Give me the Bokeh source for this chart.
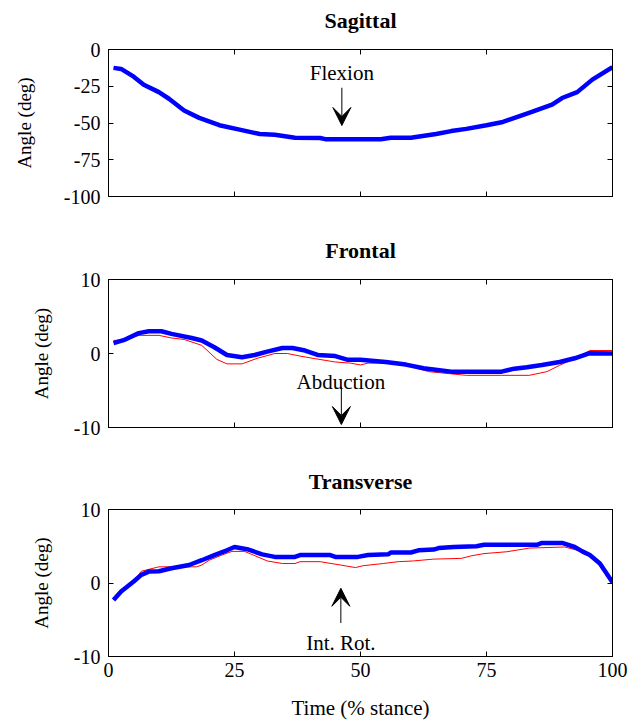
from bokeh.plotting import figure
from bokeh.layouts import column
from bokeh.models import Range1d, LinearAxis, FixedTicker, Arrow, VeeHead, Label
from bokeh.embed import file_html
from bokeh.resources import INLINE

# ---------------- data ----------------
x_ticks = [0, 25, 50, 75, 100]
sag_ticks = [-100, -75, -50, -25, 0]
fr_ticks = [-10, 0, 10]
tr_ticks = [-10, 0, 10]
titles = ["Sagittal", "Frontal", "Transverse"]

sag_t = [1, 2.5, 5, 7, 10, 12, 15, 18, 22, 26, 30, 33, 37, 42, 43, 48, 54, 56, 60, 65, 68, 71, 75, 78, 81, 84, 88, 90, 93, 96, 100]
sag_blue = [-12.5, -13.2, -18.5, -24, -29, -33.5, -41.5, -46.5, -51.5, -54.5, -57.5, -58, -60, -60.2, -61, -61, -61, -60, -60, -57.5, -55.5, -54, -51.5, -49.5, -46, -42.5, -37.5, -33, -29, -20.5, -12]
sag_red = [-12.5, -13.2, -18.5, -24, -29, -33.5, -41.5, -46.5, -51.5, -54.5, -57.5, -58, -60, -60.2, -60.6, -60.6, -60.6, -60, -60, -57.5, -55.5, -54, -51.5, -49.5, -46, -42.5, -37.5, -33, -29, -20.5, -11.8]

fr_t_blue = [1, 3, 6, 8, 10.5, 12.5, 16.5, 18.5, 21, 23.5, 26.5, 29, 31.5, 34.5, 36.5, 39, 41.5, 45, 47.5, 50, 55, 59, 62.5, 64.5, 68, 71, 78, 80.5, 83, 86, 89.5, 92.5, 95.5, 100]
fr_blue = [1.4, 1.8, 2.75, 3.0, 3.0, 2.65, 2.1, 1.75, 0.85, -0.2, -0.5, -0.2, 0.25, 0.75, 0.75, 0.4, -0.2, -0.35, -0.85, -0.85, -1.15, -1.5, -2.0, -2.15, -2.45, -2.45, -2.45, -2.05, -1.85, -1.55, -1.15, -0.65, 0.05, 0.0]
fr_t_red = [1, 3, 6, 10, 12.5, 15, 18.5, 21.5, 23.5, 26.5, 29.5, 33, 35.5, 38, 41, 45, 48, 50, 51.5, 56.5, 60.5, 63.5, 68, 71, 78, 83.5, 87, 89.5, 93, 95.5, 100]
fr_red = [1.75, 1.9, 2.45, 2.45, 2.1, 1.9, 1.1, -0.8, -1.4, -1.4, -0.65, 0.0, 0.0, -0.35, -0.7, -1.15, -1.3, -1.55, -1.3, -1.3, -1.85, -2.45, -2.75, -2.95, -2.95, -2.95, -2.45, -1.6, -0.5, 0.4, 0.4]

tr_t_blue = [1, 2.5, 5, 6.5, 8, 10, 12.5, 16, 18.5, 21, 23.5, 25, 27.5, 30.5, 33, 37, 38, 44, 45, 49.5, 51.5, 55.5, 56, 60, 61.5, 64.5, 65.5, 68.5, 73, 74.5, 85, 86, 90, 92.5, 94, 95.5, 97.5, 100]
tr_blue = [-2.3, -1.15, 0.2, 1.1, 1.55, 1.6, 2.0, 2.45, 3.1, 3.8, 4.45, 4.9, 4.6, 3.9, 3.55, 3.55, 3.8, 3.8, 3.55, 3.55, 3.8, 3.9, 4.15, 4.15, 4.45, 4.55, 4.75, 4.9, 5.0, 5.2, 5.2, 5.45, 5.45, 4.9, 4.3, 3.8, 2.65, 0.1]
tr_t_red = [1, 2.5, 5, 6.5, 10, 14, 17.5, 18.5, 20, 22.5, 24.5, 27, 31.5, 34.5, 37, 38, 42, 46, 49, 50.5, 54.5, 57.5, 60.5, 64.5, 70, 72, 74.5, 79, 83.5, 90.5, 92.5, 94, 95.5, 97.5, 100]
tr_red = [-2.3, -1.15, 0.2, 1.6, 2.2, 2.2, 2.2, 2.45, 3.1, 3.8, 4.3, 4.3, 3.0, 2.65, 2.65, 2.9, 2.9, 2.45, 2.1, 2.35, 2.65, 2.9, 3.0, 3.25, 3.35, 3.7, 4.0, 4.25, 4.75, 4.9, 4.55, 4.3, 3.8, 2.65, 0.1]

FONT = "Liberation Serif"
LEFT, RIGHT, WIDTH = 108, 31, 643


def style_axis(ax, ticks, show_labels):
    ax.ticker = FixedTicker(ticks=ticks)
    ax.major_tick_in = 5
    ax.major_tick_out = 0
    ax.minor_tick_line_color = None
    ax.axis_line_color = "black"
    ax.major_tick_line_color = "black"
    ax.major_label_text_font = FONT
    ax.axis_label_text_font = FONT
    ax.axis_label_text_font_style = "normal"
    ax.axis_label_text_color = "black"
    ax.major_label_overrides = {t: str(t) for t in ticks}
    if show_labels:
        ax.major_label_text_color = "black"
        ax.major_label_text_font_size = "20px"
        ax.major_label_standoff = 8
    else:
        ax.major_label_text_color = None
        ax.major_label_text_font_size = "1px"
        ax.major_label_standoff = 0


def title_fig(text, height, ypos):
    t = figure(width=WIDTH, height=height, x_range=Range1d(0, 100), y_range=Range1d(0, 1),
               output_backend="svg", toolbar_location=None, x_axis_type=None, y_axis_type=None,
               min_border_left=LEFT, min_border_right=RIGHT, min_border_top=0, min_border_bottom=0)
    t.outline_line_color = None
    t.add_layout(Label(x=50, y=ypos, text=text, text_align="center", text_baseline="middle",
                       text_font=FONT, text_font_style="bold", text_font_size="22px",
                       text_color="black"))
    return t


def make_panel(ylo, yhi, yticks, height, top_border, bottom, xlabels, ylab_standoff):
    p = figure(width=WIDTH, height=height, x_range=Range1d(0, 100), y_range=Range1d(ylo, yhi),
               output_backend="svg", toolbar_location=None,
               min_border_left=LEFT, min_border_right=RIGHT, min_border_top=top_border,
               min_border_bottom=bottom)
    p.xgrid.visible = False
    p.ygrid.visible = False
    p.outline_line_color = "black"
    p.outline_line_width = 1
    style_axis(p.xaxis[0], x_ticks, xlabels)
    style_axis(p.yaxis[0], yticks, True)
    p.yaxis[0].axis_label = "Angle (deg)"
    p.yaxis[0].axis_label_text_font_size = "19px"
    p.yaxis[0].axis_label_standoff = ylab_standoff
    top = LinearAxis()
    style_axis(top, x_ticks, False)
    p.add_layout(top, "above")
    right = LinearAxis()
    style_axis(right, yticks, False)
    p.add_layout(right, "right")
    return p


def note(p, text, x, y):
    p.add_layout(Label(x=x, y=y, text=text, text_align="center", text_baseline="middle",
                       text_font=FONT, text_font_size="21px", text_color="black"))


def arrow(p, x, y0, y1):
    p.add_layout(Arrow(end=VeeHead(size=18, fill_color="black", line_color="black"),
                       x_start=x, y_start=y0, x_end=x, y_end=y1,
                       line_color="black", line_width=1))


t1 = title_fig(titles[0], 35, 0.43)
p1 = make_panel(-100, 0, sag_ticks, 201, 14, 40, False, 26)
p1.line(sag_t, sag_red, line_color="red", line_width=1)
p1.line(sag_t, sag_blue, line_color="blue", line_width=4.5)
note(p1, "Flexion", 46.3, -16.3)
arrow(p1, 46.3, -26, -51.7)

t2 = title_fig(titles[1], 28, 0.5)
p2 = make_panel(-10, 10, fr_ticks, 203, 15, 40, False, 19)
p2.line(fr_t_red, fr_red, line_color="red", line_width=1)
p2.line(fr_t_blue, fr_blue, line_color="blue", line_width=4.5)
note(p2, "Abduction", 46.1, -3.9)
arrow(p2, 46.2, -4.5, -9.6)

t3 = title_fig(titles[2], 28, 0.5)
p3 = make_panel(-10, 10, tr_ticks, 227, 14, 65, True, 19)
p3.line(tr_t_red, tr_red, line_color="red", line_width=1)
p3.line(tr_t_blue, tr_blue, line_color="blue", line_width=4.5)
bottom_axis = p3.below[0]
bottom_axis.axis_label = "Time (% stance)"
bottom_axis.axis_label_text_font_size = "21px"
bottom_axis.axis_label_standoff = 16
bottom_axis.major_label_standoff = 6
note(p3, "Int. Rot.", 46.1, -8.15)
arrow(p3, 46.1, -5.45, -0.72)

layout = column(t1, p1, t2, p2, t3, p3, spacing=0)
open("out.html", "w").write(file_html(layout, INLINE))
